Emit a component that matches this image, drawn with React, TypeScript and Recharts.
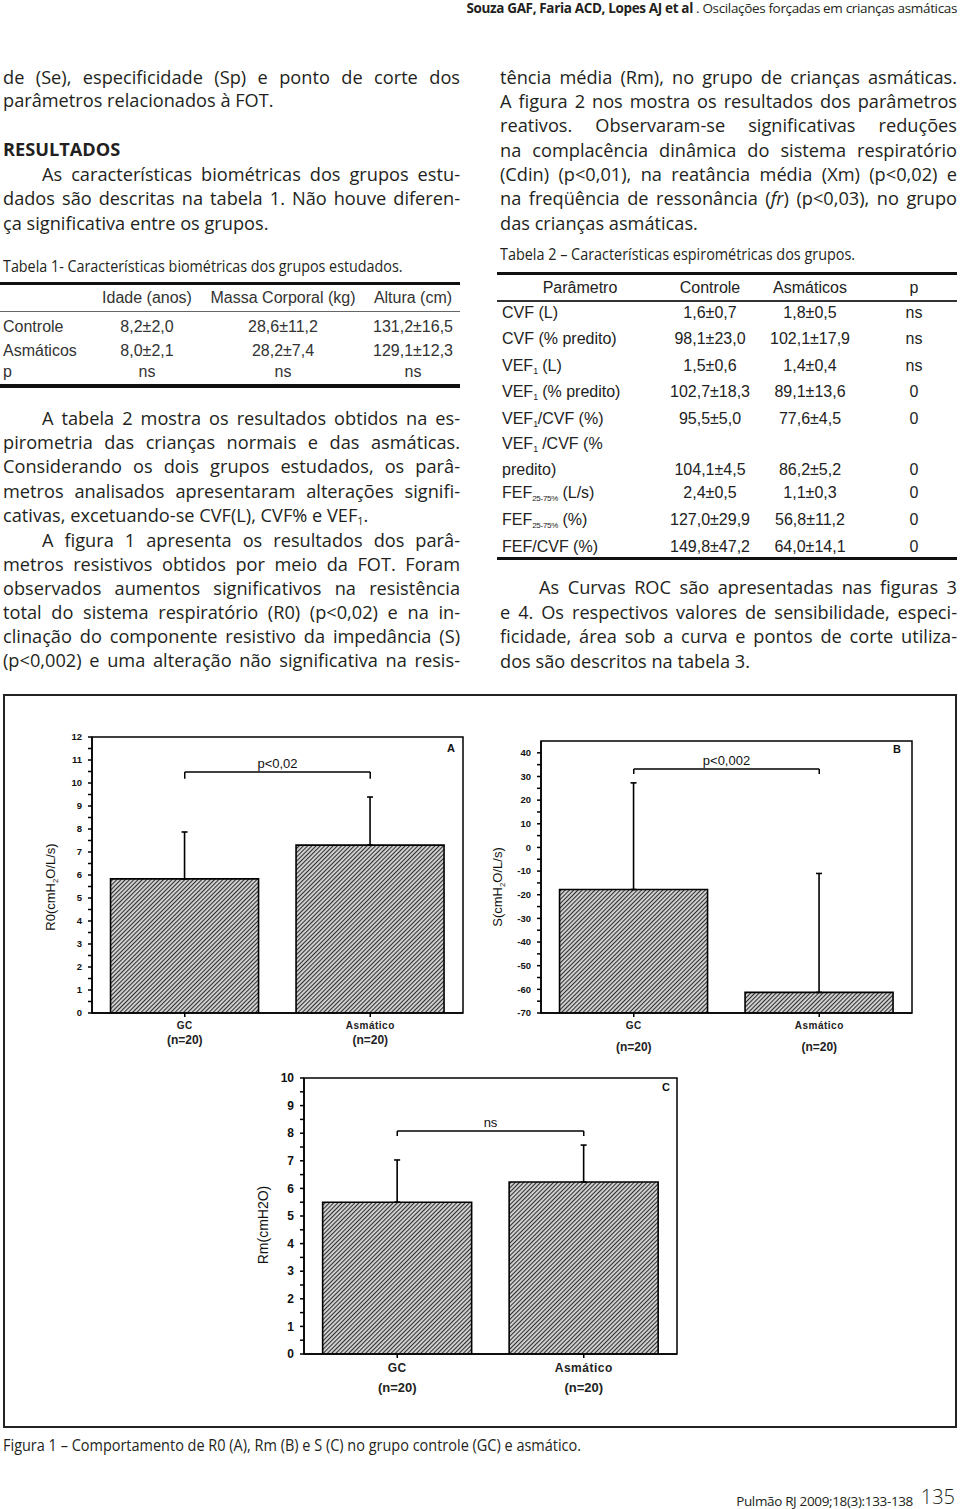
import React from 'react';
import { ComposedChart, Bar, XAxis, YAxis, ErrorBar, ReferenceLine, ReferenceArea } from 'recharts';

// groups shared by the three panels of figure 1
const groups = ['GC', 'Asmático'];
const groupN = ['(n=20)', '(n=20)'];

// A - R0 (cmH2O/L/s)
const r0Mean = [5.83, 7.3];
const r0Sd = [2.04, 2.09];
const r0Ticks = [0, 1, 2, 3, 4, 5, 6, 7, 8, 9, 10, 11, 12];

// B - S (cmH2O/L/s)
const sMean = [-17.8, -61.3];
const sSd = [45.1, 50.3];
const sTicks = [-70, -60, -50, -40, -30, -20, -10, 0, 10, 20, 30, 40];

// C - Rm (cmH2O)
const rmMean = [5.5, 6.23];
const rmSd = [1.53, 1.34];
const rmTicks = [0, 1, 2, 3, 4, 5, 6, 7, 8, 9, 10];

// tabela 1
const t1Header = ['Idade (anos)', 'Massa Corporal (kg)', 'Altura (cm)'];
const t1Rows = ['Controle', 'Asmáticos', 'p'];
const t1Idade = ['8,2±2,0', '8,0±2,1', 'ns'];
const t1Massa = ['28,6±11,2', '28,2±7,4', 'ns'];
const t1Altura = ['131,2±16,5', '129,1±12,3', 'ns'];

// tabela 2
const t2Header = ['Parâmetro', 'Controle', 'Asmáticos', 'p'];
const t2Controle = ['1,6±0,7', '98,1±23,0', '1,5±0,6', '102,7±18,3', '95,5±5,0', '104,1±4,5', '2,4±0,5', '127,0±29,9', '149,8±47,2'];
const t2Asmaticos = ['1,8±0,5', '102,1±17,9', '1,4±0,4', '89,1±13,6', '77,6±4,5', '86,2±5,2', '1,1±0,3', '56,8±11,2', '64,0±14,1'];
const t2P = ['ns', 'ns', 'ns', '0', '0', '0', '0', '0', '0'];

const bodyFont = "'Open Sans', 'Noto Sans', sans-serif";
const arial = "'Liberation Sans', Arial, sans-serif";
const ink = '#231f20';

const sub1 = <sub style={{ fontSize: '0.6em', verticalAlign: '-0.25em' }}>1</sub>;

type TextLine = { y: number; t: React.ReactNode; j?: boolean; ind?: boolean; bold?: boolean };

const leftLines: TextLine[] = [
  { y: 80, t: 'de (Se), especificidade (Sp) e ponto de corte dos', j: true },
  { y: 103, t: 'parâmetros relacionados à FOT.' },
  { y: 152, t: 'RESULTADOS', bold: true },
  { y: 177, t: 'As características biométricas dos grupos estu-', j: true, ind: true },
  { y: 201, t: 'dados são descritas na tabela 1. Não houve diferen-', j: true },
  { y: 226, t: 'ça significativa entre os grupos.' },
  { y: 421, t: 'A tabela 2 mostra os resultados obtidos na es-', j: true, ind: true },
  { y: 445, t: 'pirometria das crianças normais e das asmáticas.', j: true },
  { y: 469, t: 'Considerando os dois grupos estudados, os parâ-', j: true },
  { y: 494, t: 'metros analisados apresentaram alterações signifi-', j: true },
  { y: 518, t: <>cativas, excetuando-se CVF(L), CVF% e VEF{sub1}.</> },
  { y: 543, t: 'A figura 1 apresenta os resultados dos parâ-', j: true, ind: true },
  { y: 567, t: 'metros resistivos obtidos por meio da FOT. Foram', j: true },
  { y: 591, t: 'observados aumentos significativos na resistência', j: true },
  { y: 615, t: 'total do sistema respiratório (R0) (p<0,02) e na in-', j: true },
  { y: 639, t: 'clinação do componente resistivo da impedância (S)', j: true },
  { y: 663, t: '(p<0,002) e uma alteração não significativa na resis-', j: true },
];

const rightLines: TextLine[] = [
  { y: 80, t: 'tência média (Rm), no grupo de crianças asmáticas.', j: true },
  { y: 104, t: 'A figura 2 nos mostra os resultados dos parâmetros', j: true },
  { y: 128, t: 'reativos. Observaram-se significativas reduções', j: true },
  { y: 153, t: 'na complacência dinâmica do sistema respiratório', j: true },
  { y: 177, t: '(Cdin) (p<0,01), na reatância média (Xm) (p<0,02) e', j: true },
  { y: 201, t: <>na freqüência de ressonância (<i>fr</i>) (p&lt;0,03), no grupo</>, j: true },
  { y: 226, t: 'das crianças asmáticas.' },
  { y: 590, t: 'As Curvas ROC são apresentadas nas figuras 3', j: true, ind: true },
  { y: 615, t: 'e 4. Os respectivos valores de sensibilidade, especi-', j: true },
  { y: 639, t: 'ficidade, área sob a curva e pontos de corte utiliza-', j: true },
  { y: 664, t: 'dos são descritos na tabela 3.' },
];

function Column({ x, lines }: { x: number; lines: TextLine[] }) {
  return (
    <>
      {lines.map((l, i) => (
        <div
          key={i}
          style={{
            position: 'absolute',
            left: x + (l.ind ? 39 : 0),
            top: l.y - 15,
            width: 457 - (l.ind ? 39 : 0),
            fontFamily: bodyFont,
            fontSize: 18.2,
            fontWeight: l.bold ? 700 : 400,
            lineHeight: '25px',
            color: ink,
            whiteSpace: 'nowrap',
            textAlign: l.j ? 'justify' : 'left',
            textAlignLast: l.j ? 'justify' : 'left',
          }}
        >
          {l.t}
        </div>
      ))}
    </>
  );
}

// condensed caption text: Open Sans squeezed horizontally
function Narrow({ x, y, size, sx = 0.9, children }: any) {
  return (
    <div
      style={{
        position: 'absolute',
        left: x,
        top: y - 11,
        fontFamily: bodyFont,
        fontSize: size,
        lineHeight: '22px',
        color: ink,
        whiteSpace: 'nowrap',
        transform: `scaleX(${sx})`,
        transformOrigin: 'left center',
      }}
    >
      {children}
    </div>
  );
}

// right-aligned running header / footer text
function RightText({ right, y, size = 13.5, spacing = -0.35, weight = 400, children }: any) {
  return (
    <div
      style={{
        position: 'absolute',
        left: 0,
        width: right,
        top: y - 14,
        textAlign: 'right',
        fontFamily: bodyFont,
        fontSize: size,
        fontWeight: weight,
        letterSpacing: `${spacing}px`,
        lineHeight: '28px',
        color: ink,
        whiteSpace: 'nowrap',
      }}
    >
      {children}
    </div>
  );
}

function Cell({ cx, cy, children, size = 16, align = 'center', color = '#333' }: any) {
  const w = 200;
  return (
    <div
      style={{
        position: 'absolute',
        left: align === 'center' ? cx - w / 2 : cx,
        top: cy - 10,
        width: w,
        textAlign: align,
        fontFamily: arial,
        fontSize: size,
        lineHeight: '20px',
        color,
        whiteSpace: 'nowrap',
      }}
    >
      {children}
    </div>
  );
}

const Rule = ({ x, y, w, h, c = '#111' }: any) => (
  <div style={{ position: 'absolute', left: x, top: y, width: w, height: h, background: c }} />
);

function Table1() {
  const cols = [147, 283, 413];
  const rowsY = [327, 351, 372];
  const vals = [t1Idade, t1Massa, t1Altura];
  return (
    <>
      <Rule x={0} y={282} w={460} h={3} />
      {t1Header.map((h, i) => (
        <Cell key={h} cx={cols[i]} cy={298}>{h}</Cell>
      ))}
      <Rule x={0} y={311} w={460} h={1} c="#666" />
      {t1Rows.map((r, ri) => (
        <React.Fragment key={r}>
          <Cell cx={3} cy={rowsY[ri]} align="left">{r}</Cell>
          {vals.map((v, ci) => (
            <Cell key={ci} cx={cols[ci]} cy={rowsY[ri]}>{v[ri]}</Cell>
          ))}
        </React.Fragment>
      ))}
      <Rule x={0} y={384} w={460} h={4} />
    </>
  );
}

const smallSub = (s: string) => (
  <sub style={{ fontSize: s.length > 1 ? '0.5em' : '0.55em', verticalAlign: '-0.35em', letterSpacing: '-0.3px' }}>{s}</sub>
);

const t2Labels: React.ReactNode[] = [
  'CVF (L)',
  'CVF (% predito)',
  <>VEF{smallSub('1')} (L)</>,
  <>VEF{smallSub('1')} (% predito)</>,
  <>VEF{smallSub('1')}/CVF (%)</>,
  'predito)',
  <>FEF{smallSub('25-75%')} (L/s)</>,
  <>FEF{smallSub('25-75%')} (%)</>,
  'FEF/CVF (%)',
];

function Table2() {
  const cols = [580, 710, 810, 914];
  const rowsY = [313, 339, 366, 392, 419, 470, 493, 520, 547];
  return (
    <>
      <Rule x={497} y={272} w={460} h={3} />
      {t2Header.map((h, i) => (
        <Cell key={h} cx={cols[i]} cy={288} color="#222">{h}</Cell>
      ))}
      <Rule x={497} y={300} w={460} h={2} c="#333" />
      <Cell cx={502} cy={444} align="left" color="#222">
        VEF{smallSub('1')} /CVF (%
      </Cell>
      {t2Labels.map((l, ri) => (
        <React.Fragment key={ri}>
          <Cell cx={502} cy={rowsY[ri]} align="left" color="#222">{l}</Cell>
          <Cell cx={cols[1]} cy={rowsY[ri]} color="#222">{t2Controle[ri]}</Cell>
          <Cell cx={cols[2]} cy={rowsY[ri]} color="#222">{t2Asmaticos[ri]}</Cell>
          <Cell cx={cols[3]} cy={rowsY[ri]} color="#222">{t2P[ri]}</Cell>
        </React.Fragment>
      ))}
      <Rule x={497} y={557} w={460} h={3} />
    </>
  );
}

type Panel = {
  id: string;
  letter: string;
  mean: number[];
  sd: number[];
  ticks: number[];
  domain: [number, number];
  bracket: number;
  tip: number;
  pLabel: string;
  ylabel: string[];
  left: number;
  top: number;
  width: number;
  height: number;
  margin: { top: number; right: number; bottom: number; left: number };
  yWidth: number;
  tickFs: number;
  xFs: [number, number];
  xDy: [number, number];
  ylabelPos: [number, number];
  ylabelFs: number;
  letterPos: [number, number];
};

const panels: Panel[] = [
  {
    id: 'a', letter: 'A', mean: r0Mean, sd: r0Sd, ticks: r0Ticks, domain: [0, 12],
    bracket: 10.48, tip: 10.18, pLabel: 'p<0,02', ylabel: ['R0(cmH', '2', 'O/L/s)'],
    left: 0, top: 720, width: 480, height: 340,
    margin: { top: 17, right: 17, bottom: 17, left: 32 }, yWidth: 60,
    tickFs: 9.5, xFs: [10, 12], xDy: [10, 25], ylabelPos: [55, 167], ylabelFs: 13, letterPos: [451, 32],
  },
  {
    id: 'b', letter: 'B', mean: sMean, sd: sSd, ticks: sTicks, domain: [-70, 45],
    bracket: 33.2, tip: 31.0, pLabel: 'p<0,002', ylabel: ['S(cmH', '2', 'O/L/s)'],
    left: 480, top: 720, width: 480, height: 340,
    margin: { top: 21, right: 48, bottom: 17, left: 16 }, yWidth: 45,
    tickFs: 9.5, xFs: [10, 12], xDy: [10, 32], ylabelPos: [22, 167], ylabelFs: 13, letterPos: [417, 33],
  },
  {
    id: 'c', letter: 'C', mean: rmMean, sd: rmSd, ticks: rmTicks, domain: [0, 10],
    bracket: 8.08, tip: 7.9, pLabel: 'ns', ylabel: ['Rm(cmH2O)'],
    left: 200, top: 1060, width: 500, height: 340,
    margin: { top: 18, right: 23, bottom: 16, left: 44 }, yWidth: 60,
    tickFs: 12, xFs: [12, 13], xDy: [12, 32], ylabelPos: [68, 165], ylabelFs: 14, letterPos: [466, 31],
  },
];

function PanelChart({ p }: { p: Panel }) {
  const data = groups.map((g, i) => ({
    name: g,
    bar: [p.domain[0], p.mean[i]],
    err: [0, p.sd[i]],
  }));
  // minor ticks halfway between the labelled ones
  const minor = p.ticks.slice(1).map((t, i) => (t + p.ticks[i]) / 2);
  const allTicks = [...p.ticks, ...minor].sort((a, b) => a - b);
  const hatch = `hatch-${p.id}`;

  const yTick = (tp: any) =>
    p.ticks.includes(tp.payload.value) ? (
      <text x={tp.x} y={tp.y} dy={p.tickFs * 0.35} textAnchor="end" fontSize={p.tickFs}
        fontFamily={arial} fontWeight={700} fill="#111">
        {tp.payload.value}
      </text>
    ) : (
      <g />
    );

  const xTick = (tp: any) => (
    <g>
      <text x={tp.x} y={tp.y + p.xDy[0]} textAnchor="middle" fontSize={p.xFs[0]} fontFamily={arial}
        fontWeight={700} fill="#222" letterSpacing="0.5">
        {tp.payload.value}
      </text>
      <text x={tp.x} y={tp.y + p.xDy[1]} textAnchor="middle" fontSize={p.xFs[1]} fontFamily={arial}
        fontWeight={700} fill="#222">
        {groupN[tp.index]}
      </text>
    </g>
  );

  const yLabel = () => (
    <text transform={`translate(${p.ylabelPos[0]},${p.ylabelPos[1]}) rotate(-90)`} textAnchor="middle"
      fontSize={p.ylabelFs} fontFamily={arial} fill="#111">
      {p.ylabel.length > 1 ? (
        <>
          {p.ylabel[0]}
          <tspan dy={3} fontSize={p.ylabelFs * 0.6}>{p.ylabel[1]}</tspan>
          <tspan dy={-3}>{p.ylabel[2]}</tspan>
        </>
      ) : (
        p.ylabel[0]
      )}
    </text>
  );

  const line = { stroke: '#000', strokeWidth: 1.5 };

  return (
    <div style={{ position: 'absolute', left: p.left, top: p.top }}>
      <ComposedChart width={p.width} height={p.height} data={data} margin={p.margin} barCategoryGap="10%">
        <defs>
          <pattern id={hatch} patternUnits="userSpaceOnUse" width="3" height="3" patternTransform="rotate(45)">
            <rect width="3" height="3" fill="#d2d2d2" />
            <line x1="0.5" y1="0" x2="0.5" y2="3" stroke="#2e2e2e" strokeWidth="1.1" />
          </pattern>
        </defs>
        <XAxis dataKey="name" interval={0} tickSize={4} height={30} tick={xTick}
          tickLine={line} axisLine={line} />
        <YAxis type="number" domain={p.domain} ticks={allTicks} interval={0} width={p.yWidth}
          tickSize={4} tickMargin={6} tick={yTick} tickLine={line} axisLine={line}
          allowDataOverflow label={yLabel} />
        <ReferenceArea y1={p.domain[0]} y2={p.domain[1]} fill="none" stroke="#000" strokeWidth={1.5} />
        <Bar dataKey="bar" fill={`url(#${hatch})`} stroke="#000" strokeWidth={1.6} isAnimationActive={false}>
          <ErrorBar dataKey={(d: any) => (d && d.payload ? d.payload.err : d.err)} width={3}
            stroke="#000" strokeWidth={1.6} direction="y" />
        </Bar>
        <ReferenceLine
          segment={[{ x: groups[0], y: p.bracket }, { x: groups[1], y: p.bracket }]}
          stroke="#000" strokeWidth={1.5}
          label={{ value: p.pLabel, position: 'top', fill: '#111', fontSize: 13, fontFamily: arial, offset: 4 }}
        />
        <ReferenceLine segment={[{ x: groups[0], y: p.bracket }, { x: groups[0], y: p.tip }]} stroke="#000" strokeWidth={1.5} />
        <ReferenceLine segment={[{ x: groups[1], y: p.bracket }, { x: groups[1], y: p.tip }]} stroke="#000" strokeWidth={1.5} />
        <text x={p.letterPos[0]} y={p.letterPos[1]} textAnchor="middle" fontSize={11} fontWeight={700}
          fontFamily={arial} fill="#111">
          {p.letter}
        </text>
      </ComposedChart>
    </div>
  );
}

export default function App() {
  return (
    <div style={{ position: 'absolute', left: 0, top: 0, width: 960, height: 1509, background: '#fff', overflow: 'hidden' }}>
      <RightText right={957} y={8}>
        <b>Souza GAF, Faria ACD, Lopes AJ et al</b> . Oscilações forçadas em crianças asmáticas
      </RightText>

      <Column x={3} lines={leftLines} />
      <Column x={500} lines={rightLines} />

      <Narrow x={3} y={266} size={16} sx={0.895}>Tabela 1- Características biométricas dos grupos estudados.</Narrow>
      <Table1 />

      <Narrow x={500} y={254} size={16} sx={0.9}>Tabela 2 – Características espirométricas dos grupos.</Narrow>
      <Table2 />

      <div style={{ position: 'absolute', left: 3, top: 694, width: 950, height: 730, border: '2px solid #222' }} />
      {panels.map((p) => (
        <PanelChart key={p.id} p={p} />
      ))}

      <Narrow x={3} y={1445} size={16} sx={0.905}>
        Figura 1 – Comportamento de R0 (A), Rm (B) e S (C) no grupo controle (GC) e asmático.
      </Narrow>

      <RightText right={913} y={1501}>Pulmão RJ 2009;18(3):133-138</RightText>
      <RightText right={955} y={1497} size={20} spacing={0} weight={300}>135</RightText>
    </div>
  );
}
